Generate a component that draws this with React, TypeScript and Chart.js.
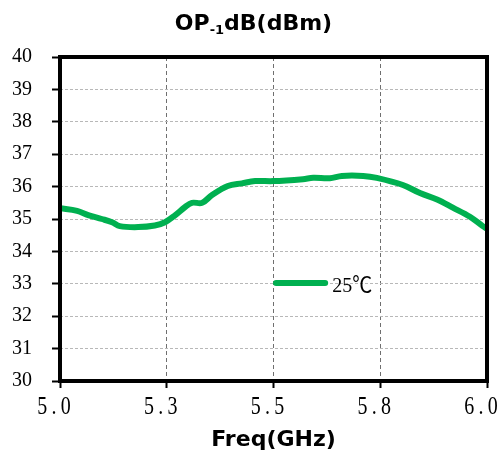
import React, { useEffect, useRef } from 'react';
import { Chart, registerables } from 'chart.js';

Chart.register(...registerables);

const freqGHz = [5.0, 5.04, 5.066, 5.098, 5.122, 5.14, 5.183, 5.222, 5.246, 5.27, 5.293, 5.309, 5.333, 5.356, 5.393, 5.426, 5.457, 5.499, 5.569, 5.593, 5.632, 5.66, 5.71, 5.742, 5.803, 5.843, 5.883, 5.92, 5.96, 5.99, 6.0];
const op1dB = [35.33, 35.25, 35.12, 35.0, 34.9, 34.78, 34.75, 34.8, 34.9, 35.12, 35.37, 35.5, 35.5, 35.74, 36.02, 36.1, 36.17, 36.17, 36.23, 36.27, 36.26, 36.33, 36.33, 36.27, 36.05, 35.8, 35.6, 35.35, 35.07, 34.78, 34.7];

const xTickValues = [5.0, 5.25, 5.5, 5.75, 6.0];
const xTickLabels = ['5.0', '5.3', '5.5', '5.8', '6.0'];
const yTickValues = [30, 31, 32, 33, 34, 35, 36, 37, 38, 39, 40];

const seriesLabel = '25℃';
const titleMain = 'OP';
const titleSub = '-1';
const titleRest = 'dB(dBm)';
const xAxisTitle = 'Freq(GHz)';

const GREEN = '#00b050';
const SANS = '"DejaVu Sans", Verdana, sans-serif';
const SERIF = '"Liberation Serif", "Noto Sans CJK SC", serif';

const framePlugin = {
  id: 'frame',
  afterDatasetsDraw(chart: any) {
    const { ctx, chartArea: a } = chart;
    ctx.save();
    ctx.strokeStyle = '#000';
    ctx.lineWidth = 4;
    ctx.strokeRect(a.left, a.top, a.right - a.left, a.bottom - a.top);
    ctx.restore();
  },
};

// x tick labels drawn in fixed-width character cells (like the original's monospaced font)
const xLabelPlugin = {
  id: 'xLabels',
  afterDraw(chart: any) {
    const { ctx, chartArea: a } = chart;
    const xs = chart.scales.x;
    const cell = 11.8;
    ctx.save();
    ctx.fillStyle = '#000';
    ctx.font = `20px ${SERIF}`;
    ctx.textAlign = 'center';
    ctx.textBaseline = 'alphabetic';
    xTickValues.forEach((v, i) => {
      const label = xTickLabels[i];
      const cx = xs.getPixelForValue(v) - 6;
      const start = cx - (cell * label.length) / 2;
      for (let k = 0; k < label.length; k++) {
        ctx.save();
        ctx.translate(start + cell * (k + 0.5), a.bottom + 33);
        ctx.scale(1, 1.22);
        ctx.fillText(label[k], 0, 0);
        ctx.restore();
      }
    });
    ctx.restore();
  },
};

const titlePlugin = {
  id: 'subTitle',
  afterDraw(chart: any) {
    const { ctx } = chart;
    ctx.save();
    const big = `bold 22px ${SANS}`;
    const small = `bold 13px ${SANS}`;
    ctx.font = big;
    const w1 = ctx.measureText(titleMain).width;
    const w3 = ctx.measureText(titleRest).width;
    ctx.font = small;
    const w2 = ctx.measureText(titleSub).width;
    const total = w1 + w2 + w3;
    let x = chart.width / 2 - total / 2 + 3;
    const y = 30;
    ctx.fillStyle = '#000';
    ctx.textBaseline = 'alphabetic';
    ctx.textAlign = 'left';
    ctx.font = big;
    ctx.fillText(titleMain, x, y);
    x += w1;
    ctx.font = small;
    ctx.fillText(titleSub, x, y + 4);
    x += w2;
    ctx.font = big;
    ctx.fillText(titleRest, x, y);
    ctx.restore();
  },
};

const legendPlugin = {
  id: 'inlineLegend',
  afterDraw(chart: any) {
    const { ctx, chartArea: a } = chart;
    const w = a.right - a.left;
    const h = a.bottom - a.top;
    const x0 = a.left + w * 0.506;
    const x1 = a.left + w * 0.621;
    const y = a.top + h * 0.6975;
    ctx.save();
    ctx.strokeStyle = GREEN;
    ctx.lineWidth = 6;
    ctx.lineCap = 'round';
    ctx.beginPath();
    ctx.moveTo(x0, y);
    ctx.lineTo(x1, y);
    ctx.stroke();
    ctx.fillStyle = '#000';
    ctx.font = `20px ${SERIF}`;
    ctx.textBaseline = 'alphabetic';
    ctx.textAlign = 'left';
    ctx.save();
    ctx.translate(x1 + 7, y + 9);
    ctx.scale(1, 1.1);
    ctx.fillText(seriesLabel, 0, 0);
    ctx.restore();
    ctx.restore();
  },
};

export default function App() {
  const ref = useRef<HTMLCanvasElement>(null);

  useEffect(() => {
    if (!ref.current) return;
    const chart = new Chart(ref.current, {
      type: 'line',
      data: {
        datasets: [
          {
            label: seriesLabel,
            data: freqGHz.map((f, i) => ({ x: f, y: op1dB[i] })),
            borderColor: GREEN,
            backgroundColor: GREEN,
            borderWidth: 6,
            pointRadius: 0,
            tension: 0.35,
            borderCapStyle: 'round',
            borderJoinStyle: 'round',
            fill: false,
          },
        ],
      },
      options: {
        animation: false,
        responsive: false,
        maintainAspectRatio: false,
        layout: { padding: { top: 57, right: 14, bottom: 0, left: 0 } },
        plugins: {
          legend: { display: false },
          title: { display: false },
          tooltip: { enabled: false },
        },
        scales: {
          x: {
            type: 'linear',
            min: 5,
            max: 6,
            afterBuildTicks: (s: any) => {
              s.ticks = xTickValues.map((v) => ({ value: v }));
            },
            afterFit: (s: any) => {
              s.height = 79;
              s.paddingLeft = 0;
              s.paddingRight = 0;
            },
            ticks: {
              display: false,
              autoSkip: false,
              maxRotation: 0,
            },
            grid: {
              color: '#6f6f6f',
              lineWidth: 1,
              tickLength: 7,
              tickColor: '#000',
              tickWidth: 2,
            },
            border: { display: false, dash: [4, 3] },
            title: {
              display: true,
              text: xAxisTitle,
              color: '#000',
              font: { family: SANS, size: 22, weight: 'bold' },
              padding: { top: 0, bottom: 7 },
            },
          },
          y: {
            type: 'linear',
            min: 30,
            max: 40,
            afterBuildTicks: (s: any) => {
              s.ticks = yTickValues.map((v) => ({ value: v }));
            },
            afterFit: (s: any) => {
              s.width = 60;
            },
            ticks: {
              padding: 20,
              color: '#000',
              font: { family: SERIF, size: 20 },
              callback: (v: any) => String(v),
            },
            grid: {
              color: '#b8b8b8',
              lineWidth: 1,
              tickLength: 8,
              tickColor: '#000',
              tickWidth: 2,
            },
            border: { display: false, dash: [3, 2] },
          },
        },
      },
      plugins: [framePlugin, xLabelPlugin, titlePlugin, legendPlugin],
    } as any);
    return () => chart.destroy();
  }, []);

  return (
    <div style={{ position: 'fixed', left: 0, top: 0, width: 501, height: 460, background: '#fff' }}>
      <canvas ref={ref} width={501} height={460} style={{ display: 'block', width: 501, height: 460 }} />
    </div>
  );
}
